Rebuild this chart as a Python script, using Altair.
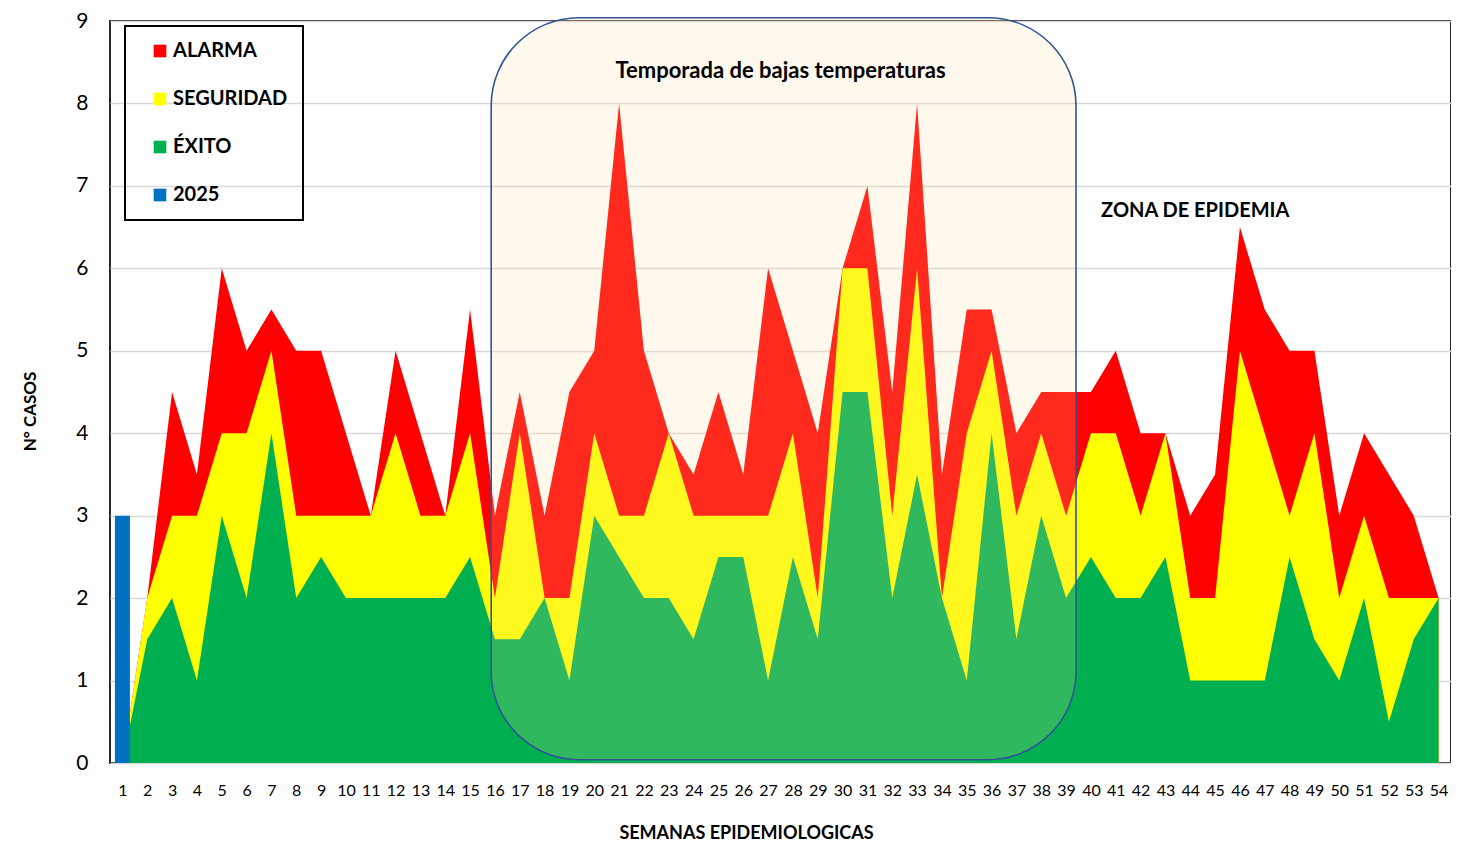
import altair as alt
import pandas as pd

weeks = list(range(1, 55))
exito = [0, 1.5, 2, 1, 3, 2, 4, 2, 2.5, 2, 2, 2, 2, 2, 2.5, 1.5, 1.5, 2, 1, 3,
         2.5, 2, 2, 1.5, 2.5, 2.5, 1, 2.5, 1.5, 4.5, 4.5, 2, 3.5, 2, 1, 4, 1.5, 3,
         2, 2.5, 2, 2, 2.5, 1, 1, 1, 1, 2.5, 1.5, 1, 2, 0.5, 1.5, 2]
seguridad = [0, 2, 3, 3, 4, 4, 5, 3, 3, 3, 3, 4, 3, 3, 4, 2, 4, 2, 2, 4,
             3, 3, 4, 3, 3, 3, 3, 4, 2, 6, 6, 3, 6, 2, 4, 5, 3, 4,
             3, 4, 4, 3, 4, 2, 2, 5, 4, 3, 4, 2, 3, 2, 2, 2]
alarma = [0, 2, 4.5, 3.5, 6, 5, 5.5, 5, 5, 4, 3, 5, 4, 3, 5.5, 3, 4.5, 3, 4.5, 5,
          8, 5, 4, 3.5, 4.5, 3.5, 6, 5, 4, 6, 7, 4.5, 8, 3.5, 5.5, 5.5, 4, 4.5,
          4.5, 4.5, 5, 4, 4, 3, 3.5, 6.5, 5.5, 5, 5, 3, 4, 3.5, 3, 2]
bar_weeks = [1]
casos_2025 = [3]

series_names = ["ALARMA", "SEGURIDAD", "ÉXITO", "2025"]
series_colors = ["#FF0000", "#FFFF00", "#00B050", "#0070C0"]
y_ticks = list(range(0, 10))

season_weeks = [15.85, 39.4]
season_cases = [0.04, 9.04]
season_label = ["Temporada de bajas temperaturas"]
season_label_pos = [27.5, 8.39]
epidemic_label = ["ZONA DE EPIDEMIA"]
epidemic_label_pos = [44.2, 6.70]

FONT = "Lato"


def series_df(values, name):
    return pd.DataFrame({"semana": weeks, "casos": values, "serie": name})


x_enc = alt.X(
    "semana:Q",
    scale=alt.Scale(domain=[0.5, 54.5], nice=False, zero=False, padding=0),
    axis=alt.Axis(
        values=weeks, title="SEMANAS  EPIDEMIOLOGICAS", grid=False, ticks=False,
        labelPadding=19, labelFontSize=16, labelFont=FONT, labelColor="#000000",
        labelFlush=False, labelOverlap=False, domain=False,
        titleFont=FONT, titleFontSize=18, titleFontWeight="bold", titleColor="#000000",
        titleX=636, titleY=70, titleBaseline="middle", titleAnchor="middle",
    ),
)
y_enc = alt.Y(
    "casos:Q",
    scale=alt.Scale(domain=[0, 9], nice=False, padding=0),
    axis=alt.Axis(
        values=y_ticks, title="N° CASOS", grid=True, gridColor="#D9D9D9", gridWidth=1.5,
        ticks=False, domain=False, labelPadding=22, labelFontSize=21, labelFont=FONT,
        labelColor="#000000",
        titleFont=FONT, titleFontSize=17, titleFontWeight="bold", titleColor="#000000",
        titleX=-80, titleY=390, titleAngle=270, titleAlign="center", titleBaseline="middle",
    ),
)
color_enc = alt.Color(
    "serie:N",
    scale=alt.Scale(domain=series_names, range=series_colors),
    legend=alt.Legend(
        title=None, orient="none", legendX=15, legendY=5, symbolType="square",
        symbolSize=160, symbolStrokeWidth=0, symbolOpacity=1, labelFontSize=20,
        labelFontWeight="bold", labelFont=FONT, labelColor="#000000", rowPadding=28,
        padding=15, symbolOffset=10, labelOffset=3, strokeColor="#000000",
    ),
)

red = alt.Chart(series_df(alarma, "ALARMA")).mark_area(opacity=1, interpolate="linear").encode(
    x=x_enc, y=y_enc, color=color_enc)
yellow = alt.Chart(series_df(seguridad, "SEGURIDAD")).mark_area(opacity=1, interpolate="linear").encode(
    x=x_enc, y=y_enc, color=color_enc)
green = alt.Chart(series_df(exito, "ÉXITO")).mark_area(opacity=1, interpolate="linear").encode(
    x=x_enc, y=y_enc, color=color_enc)
bars = alt.Chart(pd.DataFrame({"semana": bar_weeks, "casos": casos_2025, "serie": "2025"})).mark_bar(
    size=15, opacity=1).encode(x=x_enc, y=y_enc, color=color_enc)

season_df = pd.DataFrame({
    "semana": [season_weeks[0]], "semana2": [season_weeks[1]],
    "casos": [season_cases[0]], "casos2": [season_cases[1]],
})
season = alt.Chart(season_df).mark_rect(
    cornerRadius=88, fill="#FFDCA0", fillOpacity=0.19, stroke="#2F5597", strokeWidth=1.6
).encode(x=x_enc, x2="semana2:Q", y=y_enc, y2="casos2:Q")

season_text = alt.Chart(pd.DataFrame({
    "semana": [season_label_pos[0]], "casos": [season_label_pos[1]], "label": season_label,
})).mark_text(
    font=FONT, fontSize=22, fontWeight="bold", color="#000000", align="center", baseline="middle"
).encode(x=x_enc, y=y_enc, text="label:N")

epidemic_text = alt.Chart(pd.DataFrame({
    "semana": [epidemic_label_pos[0]], "casos": [epidemic_label_pos[1]], "label": epidemic_label,
})).mark_text(
    font=FONT, fontSize=20, fontWeight="bold", color="#000000", align="center", baseline="middle"
).encode(x=x_enc, y=y_enc, text="label:N")

chart = alt.layer(red, yellow, green, bars, season, season_text, epidemic_text).properties(
    width=1341, height=742,
    autosize=alt.AutoSizeParams(type="none"),
    padding={"left": 102, "top": 13, "right": 0, "bottom": 80},
).configure_view(
    stroke="#262626", strokeWidth=2
).configure_legend(
    strokeWidth=2
)

chart.save("out.html", embed_options={"renderer": "svg", "actions": False})
